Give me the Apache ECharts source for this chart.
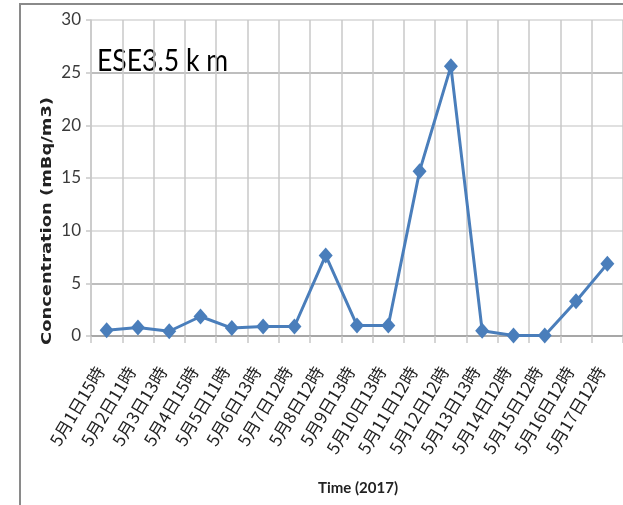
<!DOCTYPE html>
<html><head><meta charset="utf-8">
<script src="https://cdn.jsdelivr.net/npm/echarts@6/dist/echarts.min.js"></script>
<style>html,body{margin:0;padding:0;background:#fff}#c{width:623px;height:505px}</style>
</head><body><div id="c"></div>
<script>
const categories = ['5月1日15時','5月2日11時','5月3日13時','5月4日15時','5月5日11時','5月6日13時','5月7日12時','5月8日12時','5月9日13時','5月10日13時','5月11日12時','5月12日12時','5月13日13時','5月14日12時','5月15日12時','5月16日12時','5月17日12時'];
const concentration = [0.55, 0.8, 0.45, 1.85, 0.75, 0.9, 0.9, 7.65, 1.0, 1.0, 15.65, 25.6, 0.5, 0.05, 0.05, 3.3, 6.85];
const yTicks = [0, 5, 10, 15, 20, 25, 30];
const titleText = 'ESE3.5 k m';
const yTitle = 'Concentration (mBq/m3)';
const xTitle = 'Time (2017)';

const ctx = document.createElement('canvas').getContext('2d');
function fitScale(text, font, target) { ctx.font = font; return target / ctx.measureText(text).width; }
const titleFont = '30px Lato, sans-serif';
const yTitleFont = 'bold 14px "DejaVu Sans", sans-serif';
const xTitleFont = 'bold 15px Lato, sans-serif';

const chart = echarts.init(document.getElementById('c'), null, {renderer: 'canvas'});
const gridColor = '#c8c8c8';
const dark = '#a8a8a8', light = '#d6d6d6';
chart.setOption({
  animation: false,
  backgroundColor: '#fff',
  grid: {left: 91, right: 0, top: 20, bottom: 169, containLabel: false},
  xAxis: {
    type: 'category', data: categories, boundaryGap: true,
    axisLine: {show: true, lineStyle: {color: '#a0a0a0', width: 1.5}},
    axisTick: {show: true, length: 7, lineStyle: {color: gridColor, width: 1.5}},
    splitLine: {show: true, lineStyle: {color: gridColor, width: 1.5}},
    axisLabel: {rotate: 59, interval: 0, fontSize: 17, color: '#222', margin: 21,
      padding: [0, 13, 0, 0],
      fontFamily: '"Noto Sans CJK JP", sans-serif'}
  },
  yAxis: {
    type: 'value', min: yTicks[0], max: yTicks[yTicks.length-1], interval: 5,
    axisLine: {show: true, lineStyle: {color: gridColor, width: 1.5}},
    axisTick: {show: true, length: 5, lineStyle: {color: gridColor, width: 1.5}},
    splitLine: {show: true, lineStyle: {color: [dark, dark, light, light, light, dark, light], width: 1.5}},
    axisLabel: {fontSize: 17, color: '#3a3a3a', margin: 10, fontFamily: 'Lato, sans-serif'}
  },
  series: [{
    type: 'line', data: concentration,
    symbol: 'diamond', symbolSize: [14, 16],
    lineStyle: {color: '#4a7ebb', width: 3},
    itemStyle: {color: '#4a7ebb'}
  }],
  graphic: [
    {type: 'rect', shape: {x: 20, y: 4, width: 620, height: 520}, style: {fill: 'none', stroke: '#8a8a8a', lineWidth: 2}, z: 100},
    {type: 'text', x: 97, y: 61, scaleX: fitScale(titleText, titleFont, 131), style: {text: titleText, font: titleFont, fill: '#000', verticalAlign: 'middle'}},
    {type: 'text', x: 47, y: 221, rotation: Math.PI/2, scaleX: fitScale(yTitle, yTitleFont, 248), style: {text: yTitle, font: yTitleFont, fill: '#222', align: 'center', verticalAlign: 'middle'}},
    {type: 'text', x: 358, y: 488, scaleX: fitScale(xTitle, xTitleFont, 80), style: {text: xTitle, font: xTitleFont, fill: '#222', align: 'center', verticalAlign: 'middle'}}
  ]
});
</script></body></html>
